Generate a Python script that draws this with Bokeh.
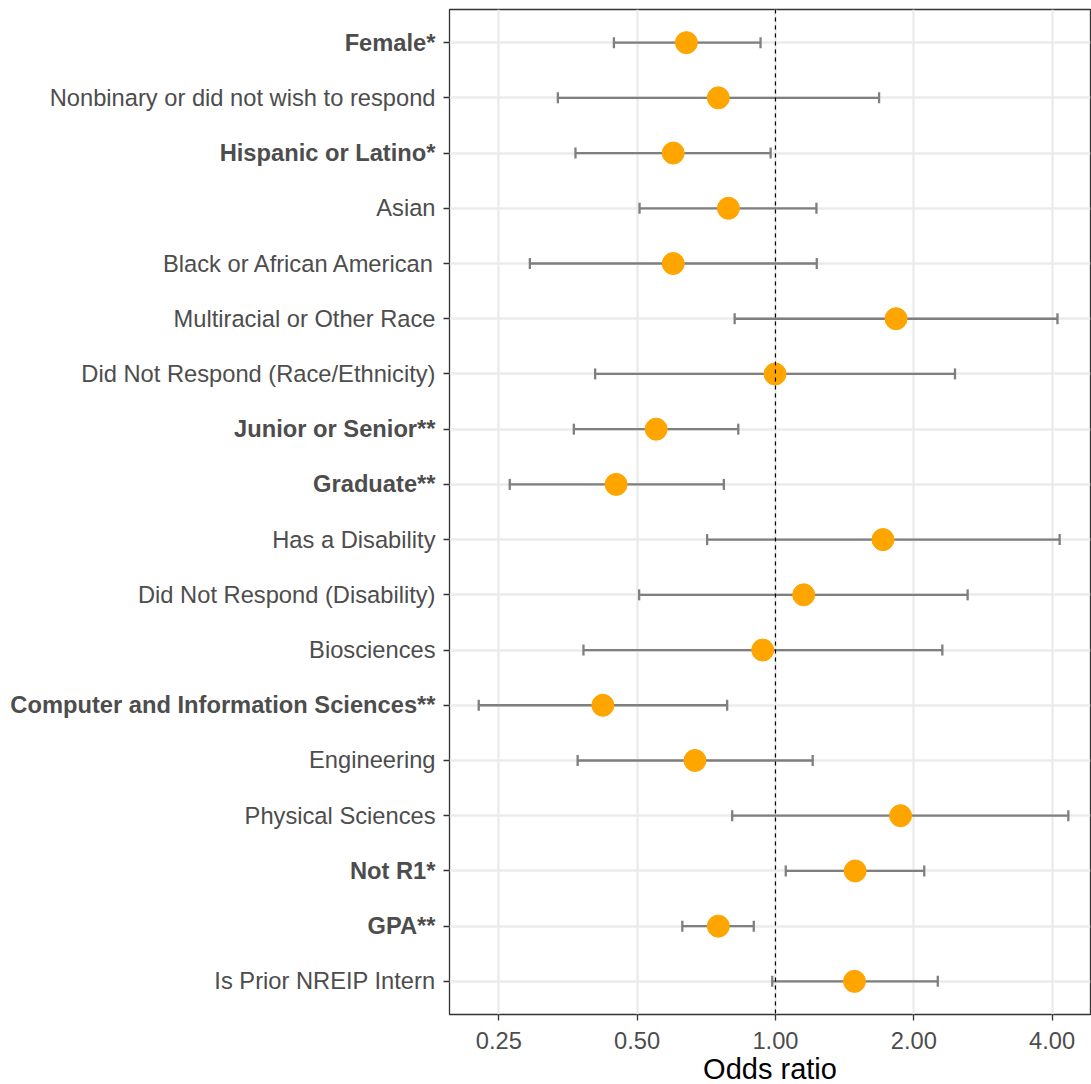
import math
from bokeh.plotting import figure
from bokeh.layouts import row, column
from bokeh.models import (ColumnDataSource, Range1d, FixedTicker, Span, Spacer,
                          Whisker, TeeHead, CustomJSTickFormatter)
from bokeh.embed import file_html
from bokeh.resources import INLINE

# Predictors, top to bottom; asterisks mark significance
predictors = [
    "Female*",
    "Nonbinary or did not wish to respond",
    "Hispanic or Latino*",
    "Asian",
    "Black or African American",
    "Multiracial or Other Race",
    "Did Not Respond (Race/Ethnicity)",
    "Junior or Senior**",
    "Graduate**",
    "Has a Disability",
    "Did Not Respond (Disability)",
    "Biosciences",
    "Computer and Information Sciences**",
    "Engineering",
    "Physical Sciences",
    "Not R1*",
    "GPA**",
    "Is Prior NREIP Intern",
]
odds_ratio = [0.640, 0.751, 0.599, 0.790, 0.599, 1.830, 0.998, 0.550, 0.450,
              1.714, 1.152, 0.938, 0.421, 0.668, 1.872, 1.491, 0.751, 1.486]
ci_lower = [0.445, 0.336, 0.367, 0.506, 0.292, 0.815, 0.405, 0.364, 0.264,
            0.710, 0.505, 0.382, 0.226, 0.371, 0.805, 1.053, 0.627, 0.984]
ci_upper = [0.928, 1.681, 0.976, 1.228, 1.230, 4.110, 2.459, 0.830, 0.772,
            4.155, 2.620, 2.308, 0.785, 1.205, 4.340, 2.108, 0.897, 2.256]
x_breaks = [0.25, 0.5, 1.0, 2.0, 4.0]
x_break_labels = [f"{b:.2f}" for b in x_breaks]
x_title = "Odds ratio"

rows = list(range(1, len(predictors) + 1))
styles = ["bold" if "*" in n else "normal" for n in predictors]
src = ColumnDataSource(dict(y=rows, est=odds_ratio, lo=ci_lower, hi=ci_upper,
                            name=predictors, style=styles))

X_LO, X_HI = 0.1952, 4.85
TEXT_GREY = "#4D4D4D"
DARK = "#333333"
FONT = {"value": "Liberation Sans"}
LABEL_W = 440
TOTAL_W, TOTAL_H = 1091, 1084
MAIN_H = 1022          # panel plus the outward tick marks
TOP, BOTTOM = 9, 8
PANEL_W = TOTAL_W - LABEL_W
STRIP_H = TOTAL_H - MAIN_H

y_range = Range1d(len(predictors) + 0.6, 0.4)
x_range = Range1d(X_LO, X_HI)

# ---- left strip holding the predictor names ----
lab = figure(width=LABEL_W, height=MAIN_H, x_range=Range1d(0, LABEL_W),
             y_range=y_range, output_backend="svg", toolbar_location=None,
             x_axis_location=None, y_axis_location=None,
             min_border_left=0, min_border_right=0,
             min_border_top=TOP, min_border_bottom=BOTTOM)
lab.outline_line_color = None
lab.grid.visible = False
lab.text(x=LABEL_W - 5, y="y", text="name", source=src,
         text_align="right", text_baseline="middle",
         text_font=FONT, text_font_size={"value": "23.7px"},
         text_font_style="style", text_color=TEXT_GREY)

# ---- main panel ----
p = figure(width=PANEL_W, height=MAIN_H, x_axis_type="log",
           x_range=x_range, y_range=y_range,
           output_backend="svg", toolbar_location=None,
           min_border_left=9, min_border_right=1,
           min_border_top=TOP, min_border_bottom=BOTTOM)
p.outline_line_color = DARK
p.outline_line_width = 1.3

p.xgrid.ticker = FixedTicker(ticks=x_breaks)
p.ygrid.ticker = FixedTicker(ticks=rows)
for g in (p.xgrid, p.ygrid):
    g.grid_line_color = "#EBEBEB"
    g.grid_line_width = 2.3
    g.minor_grid_line_color = None

for ax, ticks in ((p.xaxis[0], x_breaks), (p.yaxis[0], rows)):
    ax.ticker = FixedTicker(ticks=ticks, minor_ticks=[])
    ax.formatter = CustomJSTickFormatter(code="return '';")
    ax.axis_line_color = None
    ax.major_tick_line_color = DARK
    ax.major_tick_line_width = 1.3
    ax.major_tick_in = 0
    ax.major_tick_out = 6
    ax.minor_tick_line_color = None
    ax.major_label_text_font_size = "0px"
    ax.major_label_standoff = 0

# reference line at OR = 1
p.add_layout(Span(location=1.0, dimension="height", line_color="black",
                  line_width=1.2, line_dash="4 4"))

# confidence intervals
p.add_layout(Whisker(source=src, base="y", lower="lo", upper="hi",
                     dimension="width", line_color="#7F7F7F", line_width=2.3,
                     lower_head=TeeHead(size=11, line_color="#7F7F7F", line_width=2.3),
                     upper_head=TeeHead(size=11, line_color="#7F7F7F", line_width=2.3)))

# point estimates
p.scatter(x="est", y="y", source=src, size=22, fill_color="#FFA500",
          line_color="#FFA500")

# ---- bottom strip: x tick labels and axis title on the same log scale ----
xs = figure(width=PANEL_W, height=STRIP_H, x_axis_type="log",
            x_range=x_range, y_range=Range1d(STRIP_H, 0),
            output_backend="svg", toolbar_location=None,
            x_axis_location=None, y_axis_location=None,
            min_border_left=9, min_border_right=1,
            min_border_top=0, min_border_bottom=0)
xs.outline_line_color = None
xs.grid.visible = False
xs.text(x=x_breaks, y=[18] * len(x_breaks), text=x_break_labels,
        text_align="center", text_baseline="middle", text_font=FONT,
        text_font_size={"value": "23.7px"}, text_color=TEXT_GREY)
x_mid = math.sqrt(X_LO * X_HI)
xs.text(x=[x_mid], y=[46], text=[x_title], text_align="center",
        text_baseline="middle", text_font=FONT,
        text_font_size={"value": "29px"}, text_color="black")

layout = column(row(lab, p, spacing=0),
                row(Spacer(width=LABEL_W, height=STRIP_H), xs, spacing=0),
                spacing=0)
open("out.html", "w").write(file_html(layout, INLINE))
